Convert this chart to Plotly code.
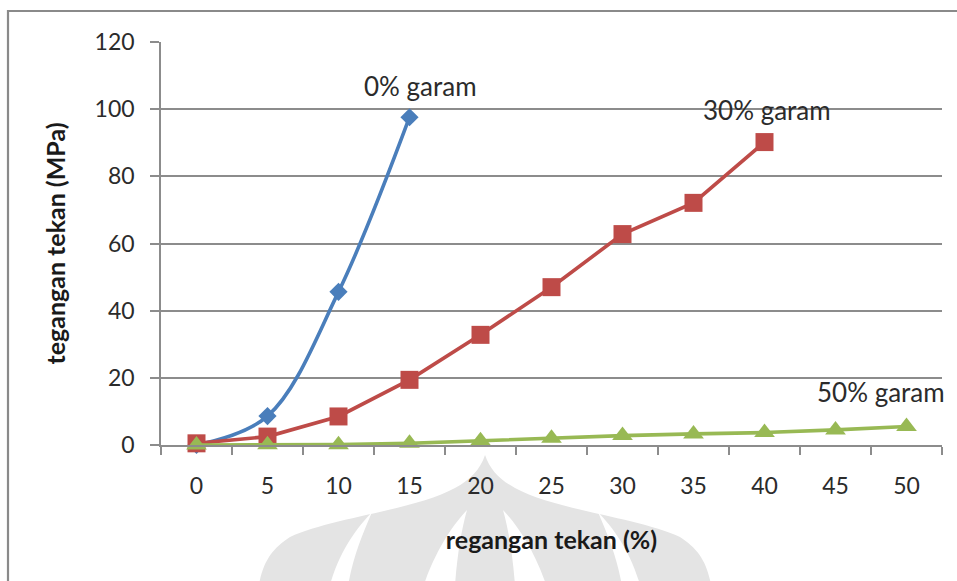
import plotly.graph_objects as go

# Compressive stress (MPa) versus compressive strain (%) for three salt contents
strain_labels = ["0", "5", "10", "15", "20", "25", "30", "35", "40", "45", "50"]

stress_0 = [0.0, 8.6, 45.6, 97.6]
stress_30 = [0.5, 2.5, 8.5, 19.4, 32.8, 47.0, 62.8, 72.1, 90.2]
stress_50 = [0.0, 0.1, 0.1, 0.5, 1.3, 2.0, 2.8, 3.3, 3.7, 4.5, 5.5]

series_names = ["0% garam", "30% garam", "50% garam"]

BLUE = "#4a7ebb"
RED = "#be4b48"
GREEN = "#98b954"
FONT = "Lato, Carlito, Calibri, sans-serif"
TEXT = "#2b2b2b"

W, H = 957, 581
ML, MR, MT, MB = 161, 15, 42, 136
PW, PH = W - ML - MR, H - MT - MB


def to_paper(x, y):
    return (x - ML) / PW, (H - MB - y) / PH


def path(cmds):
    out = []
    for cmd, pts in cmds:
        coords = " ".join("%.4f,%.4f" % to_paper(x, y) for x, y in pts)
        out.append(cmd + coords)
    return " ".join(out) + " Z"


def mirror(cmds, cx=485):
    return [(c, [(2 * cx - x, y) for x, y in pts]) for c, pts in cmds]


fig = go.Figure()

fig.add_trace(go.Scatter(
    x=strain_labels[:len(stress_0)], y=stress_0, name=series_names[0],
    mode="lines+markers", line=dict(color=BLUE, width=3.6, shape="spline", smoothing=1.0),
    marker=dict(symbol="diamond", size=14, color=BLUE), cliponaxis=False,
))
fig.add_trace(go.Scatter(
    x=strain_labels[:len(stress_30)], y=stress_30, name=series_names[1],
    mode="lines+markers", line=dict(color=RED, width=3.6),
    marker=dict(symbol="square", size=18, color=RED), cliponaxis=False,
))
fig.add_trace(go.Scatter(
    x=strain_labels[:len(stress_50)], y=stress_50, name=series_names[2],
    mode="lines+markers", line=dict(color=GREEN, width=3.6),
    marker=dict(symbol="triangle-up", size=18, color=GREEN), cliponaxis=False,
))

# faint emblem behind the lower part of the chart
dome = [
    ("M", [(485, 455)]),
    ("C", [(490, 470), (500, 480), (515, 488)]),
    ("C", [(555, 510), (640, 518), (680, 537)]),
    ("C", [(700, 550), (710, 565), (713, 600)]),
    ("L", [(257, 600)]),
    ("C", [(260, 565), (270, 550), (290, 537)]),
    ("C", [(330, 518), (415, 510), (455, 488)]),
    ("C", [(470, 480), (480, 470), (485, 455)]),
]
cut_inner = [
    ("M", [(503, 510)]),
    ("C", [(517, 525), (537, 552), (551, 600)]),
    ("L", [(516, 600)]),
    ("C", [(514, 565), (510, 535), (503, 510)]),
]
cut_outer = [
    ("M", [(598, 512)]),
    ("C", [(615, 530), (634, 555), (644, 600)]),
    ("L", [(624, 600)]),
    ("C", [(620, 565), (610, 540), (598, 512)]),
]
shapes = [
    dict(type="path", xref="paper", yref="paper", layer="below",
         path=path(dome), fillcolor="#e4e4e4", line=dict(width=0)),
]
for cut in (cut_inner, cut_outer, mirror(cut_inner), mirror(cut_outer)):
    shapes.append(dict(type="path", xref="paper", yref="paper", layer="below",
                       path=path(cut), fillcolor="white", line=dict(width=0)))

# chart frame
x0, y0 = to_paper(8, 11)
x1, y1 = to_paper(980, 600)
shapes.append(dict(type="rect", xref="paper", yref="paper", layer="above",
                   x0=x0, y0=y1, x1=x1, y1=y0, line=dict(color="#8a8a8a", width=2.2),
                   fillcolor="rgba(0,0,0,0)"))

annotations = [
    dict(x=3.15, y=106.8, text=series_names[0]),
    dict(x=8.04, y=99.8, text=series_names[1]),
    dict(x=9.64, y=15.9, text=series_names[2]),
]
for a in annotations:
    a.update(xref="x", yref="y", showarrow=False, xanchor="center", yanchor="middle",
             font=dict(family=FONT, size=26, color=TEXT))

fig.update_layout(
    width=W, height=H,
    margin=dict(l=ML, r=MR, t=MT, b=MB, autoexpand=False),
    paper_bgcolor="white", plot_bgcolor="rgba(0,0,0,0)",
    showlegend=False,
    font=dict(family=FONT, color=TEXT),
    shapes=shapes, annotations=annotations,
)

fig.update_xaxes(
    type="category", categoryorder="array", categoryarray=strain_labels,
    range=[-0.5, 10.5], tickson="boundaries",
    ticks="outside", ticklen=8, tickwidth=1.5, tickcolor="#8c8c8c",
    showline=True, linecolor="#8c8c8c", linewidth=1.5, showgrid=False, zeroline=False,
    tickfont=dict(family=FONT, size=23, color=TEXT), ticklabelstandoff=20,
    title=dict(text="<b>regangan tekan (%)</b>", standoff=33,
               font=dict(family=FONT, size=25, color="#1a1a1a")),
    automargin=False,
)
fig.update_yaxes(
    range=[0, 120], dtick=20, tick0=0,
    ticks="outside", ticklen=9, tickwidth=1.5, tickcolor="#8c8c8c",
    showline=True, linecolor="#8c8c8c", linewidth=1.5,
    showgrid=True, gridcolor="#8c8c8c", gridwidth=1.5, zeroline=False,
    tickfont=dict(family=FONT, size=23, color=TEXT), ticklabelstandoff=11,
    title=dict(text="<b>tegangan tekan (MPa)</b>", standoff=22,
               font=dict(family=FONT, size=25, color="#1a1a1a")),
    automargin=False,
)

fig.write_html("out.html")
